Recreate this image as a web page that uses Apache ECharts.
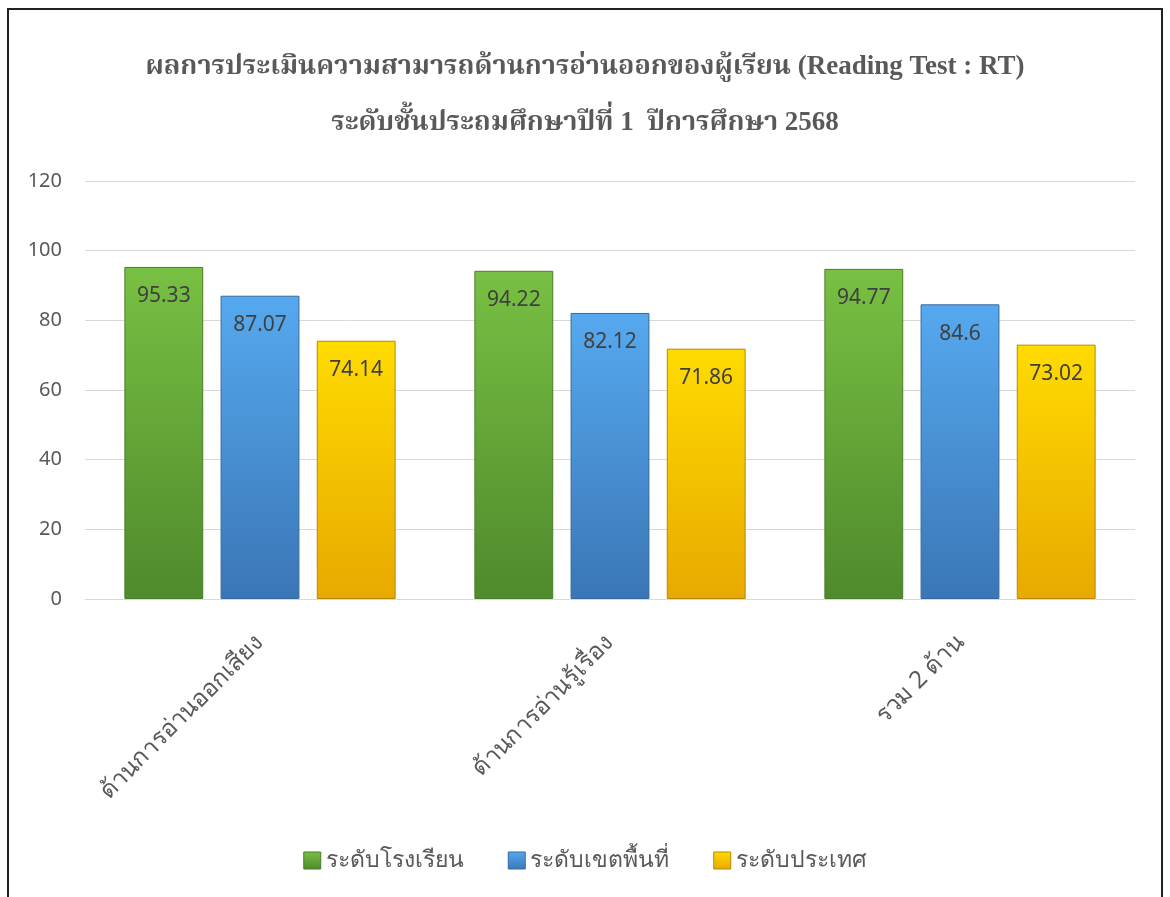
<!DOCTYPE html>
<html>
<head>
<meta charset="utf-8">
<script src="https://cdn.jsdelivr.net/npm/echarts@6/dist/echarts.min.js"></script>
<style>
html,body{margin:0;padding:0;background:#fff;}
#frame{position:absolute;left:7px;top:8px;width:1156px;height:900px;border:2px solid #222;border-bottom:none;box-sizing:border-box;}
#chart{position:absolute;left:0;top:0;width:1170px;height:897px;}
</style>
</head>
<body>
<div id="frame"></div>
<div id="chart"></div>
<script>
const titleLines = ['ผลการประเมินความสามารถด้านการอ่านออกของผู้เรียน (Reading Test : RT)', 'ระดับชั้นประถมศึกษาปีที่ 1  ปีการศึกษา 2568'];
const categories = ['ด้านการอ่านออกเสียง', 'ด้านการอ่านรู้เรื่อง', 'รวม 2 ด้าน'];
const seriesNames = ['ระดับโรงเรียน', 'ระดับเขตพื้นที่', 'ระดับประเทศ'];
const schoolValues = [95.33, 94.22, 94.77];
const areaValues = [87.07, 82.12, 84.6];
const nationValues = [74.14, 71.86, 73.02];
const yTicks = [0, 20, 40, 60, 80, 100, 120];

const grad = (top, bottom) => new echarts.graphic.LinearGradient(0, 0, 0, 1, [
  {offset: 0, color: top}, {offset: 1, color: bottom}
]);
const styles = [
  {color: grad('#78c043', '#4f8a2c'), borderColor: '#4a7d2a'},
  {color: grad('#56a9ef', '#3a76b6'), borderColor: '#3569a0'},
  {color: grad('#ffdb00', '#e8a900'), borderColor: '#b8860b'}
];
const dataSets = [schoolValues, areaValues, nationValues];

const chart = echarts.init(document.getElementById('chart'), null, {renderer: 'canvas'});
chart.setOption({
  backgroundColor: 'transparent',
  animation: false,
  title: {
    text: titleLines.join('\n'),
    left: 'center',
    top: 34,
    textStyle: {
      fontFamily: '"Liberation Serif", "Noto Serif Thai", serif',
      fontWeight: 'bold',
      fontSize: 27,
      color: '#595959',
      lineHeight: 56
    }
  },
  grid: {left: 85, right: 35, top: 181, bottom: 298, containLabel: false},
  legend: {
    bottom: 20,
    left: 'center',
    itemWidth: 17,
    itemHeight: 17,
    itemGap: 44,
    itemStyle: {borderWidth: 1},
    icon: 'rect',
    textStyle: {fontSize: 23, color: '#595959', fontFamily: '"Noto Sans", sans-serif'},
    data: seriesNames
  },
  xAxis: {
    type: 'category',
    data: categories,
    axisLine: {lineStyle: {color: '#d9d9d9', width: 1}},
    axisTick: {show: false},
    axisLabel: {
      rotate: 45,
      margin: 40,
      fontSize: 24,
      color: '#595959',
      fontFamily: '"Noto Sans", sans-serif'
    }
  },
  yAxis: {
    type: 'value',
    min: 0,
    max: 120,
    interval: 20,
    axisLine: {show: false},
    axisTick: {show: false},
    splitLine: {lineStyle: {color: '#d9d9d9', width: 1}},
    axisLabel: {
      fontSize: 20,
      color: '#595959',
      margin: 23,
      fontFamily: '"Noto Sans", sans-serif',
      formatter: v => yTicks.includes(v) ? String(v) : ''
    }
  },
  series: seriesNames.map((name, i) => ({
    name: name,
    type: 'bar',
    data: dataSets[i],
    barGap: '22%',
    barCategoryGap: '22.5%',
    itemStyle: Object.assign({borderWidth: 1}, styles[i]),
    label: {
      show: true,
      position: 'insideTop',
      distance: 19,
      fontSize: 21,
      color: '#404040',
      fontFamily: '"Noto Sans", sans-serif'
    }
  }))
});
</script>
</body>
</html>
